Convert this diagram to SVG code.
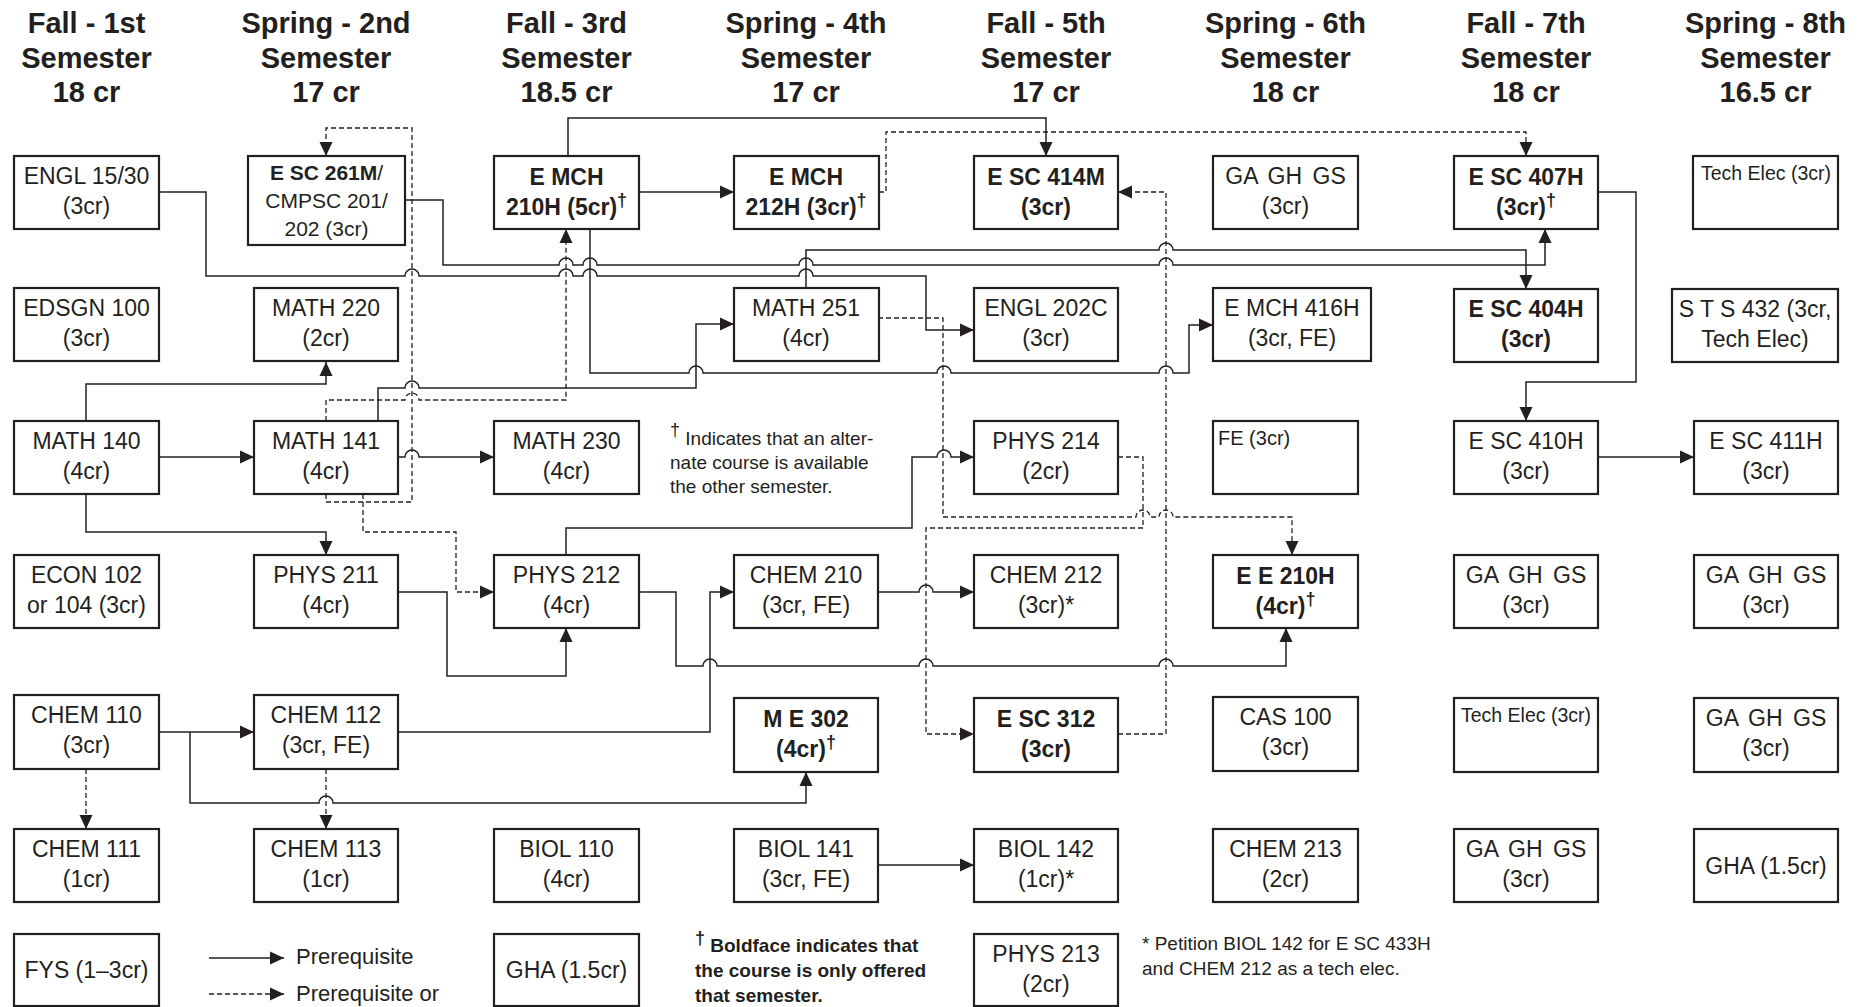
<svg xmlns="http://www.w3.org/2000/svg" width="1862" height="1007" viewBox="0 0 1862 1007">
<style>
.box{fill:#fff;stroke:#231f20;stroke-width:2.2}
text{font-family:"Liberation Sans",Arial,sans-serif;fill:#231f20}
.t{font-size:23px;text-anchor:middle}
.s{font-size:19.5px;text-anchor:middle}
.b{font-weight:bold}
.h{font-size:29px;font-weight:bold;text-anchor:middle}
.n{font-size:19px}
.dg{font-size:18px}
.c{fill:none;stroke:#231f20;stroke-width:1.5}
.d{stroke-dasharray:5 3;stroke-width:1.3}
.ga{word-spacing:4px}
</style>
<defs>
<marker id="ah" markerUnits="userSpaceOnUse" markerWidth="14" markerHeight="13" refX="14" refY="6.5" orient="auto" overflow="visible">
<path d="M0,0 L14,6.5 L0,13 z" fill="#231f20"/>
</marker>
</defs>
<rect width="1862" height="1007" fill="#fff"/>

<g id="headers">
<text class="h" x="86.5" y="33">Fall - 1st</text><text class="h" x="86.5" y="68">Semester</text><text class="h" x="86.5" y="102">18 cr</text>
<text class="h" x="326" y="33">Spring - 2nd</text><text class="h" x="326" y="68">Semester</text><text class="h" x="326" y="102">17 cr</text>
<text class="h" x="566.5" y="33">Fall - 3rd</text><text class="h" x="566.5" y="68">Semester</text><text class="h" x="566.5" y="102">18.5 cr</text>
<text class="h" x="806" y="33">Spring - 4th</text><text class="h" x="806" y="68">Semester</text><text class="h" x="806" y="102">17 cr</text>
<text class="h" x="1046" y="33">Fall - 5th</text><text class="h" x="1046" y="68">Semester</text><text class="h" x="1046" y="102">17 cr</text>
<text class="h" x="1285.5" y="33">Spring - 6th</text><text class="h" x="1285.5" y="68">Semester</text><text class="h" x="1285.5" y="102">18 cr</text>
<text class="h" x="1526" y="33">Fall - 7th</text><text class="h" x="1526" y="68">Semester</text><text class="h" x="1526" y="102">18 cr</text>
<text class="h" x="1765.5" y="33">Spring - 8th</text><text class="h" x="1765.5" y="68">Semester</text><text class="h" x="1765.5" y="102">16.5 cr</text>
</g>

<g id="connectors">
<path class="c" marker-end="url(#ah)" d="M159,192 H206 V276 H405 a7,7 0 0 1 14,0 H559 a7,7 0 0 1 14,0 H583 a7,7 0 0 1 14,0 H799 a7,7 0 0 1 14,0 H926 V330 H974"/>
<path class="c" marker-end="url(#ah)" d="M405,200 H443 V265 H559 a7,7 0 0 1 14,0 H583 a7,7 0 0 1 14,0 H799 a7,7 0 0 1 14,0 H1159 a7,7 0 0 1 14,0 H1545 V229"/>
<path class="c" marker-end="url(#ah)" d="M806,288 V250 H1159 a7,7 0 0 1 14,0 H1526 V289"/>
<path class="c" marker-end="url(#ah)" d="M568,156 V118 H1046 V156"/>
<path class="c" marker-end="url(#ah)" d="M639,192 H734"/>
<path class="c" marker-end="url(#ah)" d="M590,229 V373 H689 a7,7 0 0 1 14,0 H937 a7,7 0 0 1 14,0 H1159 a7,7 0 0 1 14,0 H1189 V325 H1213"/>
<path class="c" marker-end="url(#ah)" d="M159,457 H254"/>
<path class="c" marker-end="url(#ah)" d="M86,421 V384 H326 V362"/>
<path class="c" marker-end="url(#ah)" d="M86,494 V532 H326 V555"/>
<path class="c" marker-end="url(#ah)" d="M398,457 H405 a7,7 0 0 1 14,0 H494"/>
<path class="c" marker-end="url(#ah)" d="M378,421 V388 H405 a7,7 0 0 1 14,0 H696 V324 H734"/>
<path class="c" marker-end="url(#ah)" d="M398,592 H447 V676 H566 V628"/>
<path class="c" marker-end="url(#ah)" d="M566,555 V528 H912 V457 H937 a7,7 0 0 1 14,0 H974"/>
<path class="c" marker-end="url(#ah)" d="M639,592 H676 V666 H703 a7,7 0 0 1 14,0 H919 a7,7 0 0 1 14,0 H1159 a7,7 0 0 1 14,0 H1286 V628"/>
<path class="c" marker-end="url(#ah)" d="M398,732 H710 V592 H734"/>
<path class="c" marker-end="url(#ah)" d="M878,592 H919 a7,7 0 0 1 14,0 H974"/>
<path class="c" marker-end="url(#ah)" d="M159,732 H254"/>
<path class="c" marker-end="url(#ah)" d="M190,732 V803 H319 a7,7 0 0 1 14,0 H806 V772"/>
<path class="c" marker-end="url(#ah)" d="M878,865 H974"/>
<path class="c" marker-end="url(#ah)" d="M1598,192 H1636 V382 H1526 V421"/>
<path class="c" marker-end="url(#ah)" d="M1598,457 H1694"/>
<path class="c d" marker-end="url(#ah)" d="M879,192 H886 V132 H1526 V156"/>
<path class="c d" marker-end="url(#ah)" d="M326,494 V502 H412 V128 H326 V156"/>
<path class="c d" marker-end="url(#ah)" d="M326,421 V400 H405 a7,7 0 0 1 14,0 H566 V229"/>
<path class="c d" marker-end="url(#ah)" d="M363,494 V532 H456 V592 H494"/>
<path class="c d" marker-end="url(#ah)" d="M878,318 H943 V517 H1136 a7,7 0 0 1 14,0 H1159 a7,7 0 0 1 14,0 H1292 V555"/>
<path class="c d" marker-end="url(#ah)" d="M1118,457 H1143 V528 H926 V734 H974"/>
<path class="c d" marker-end="url(#ah)" d="M1118,734 H1166 V192 H1118"/>
<path class="c d" marker-end="url(#ah)" d="M86,769 V829"/>
<path class="c d" marker-end="url(#ah)" d="M326,769 V829"/>
</g>

<g id="engl15"><rect class="box" x="14" y="156" width="145" height="73"/><text class="t" x="86.5" y="184">ENGL 15/30</text><text class="t" x="86.5" y="214">(3cr)</text></g>
<g id="esc261m"><rect class="box" x="248" y="156" width="157" height="89"/><text class="t" style="font-size:21px" x="326.5" y="180"><tspan class="b">E SC 261M</tspan>/</text><text class="t" style="font-size:21px" x="326.5" y="208">CMPSC 201/</text><text class="t" style="font-size:21px" x="326.5" y="236">202 (3cr)</text></g>
<g id="emch210h"><rect class="box" x="494" y="156" width="145" height="73"/><text class="t b" x="566.5" y="185">E MCH</text><text class="t b" x="566.5" y="215">210H (5cr)<tspan class="dg" dy="-9">†</tspan></text></g>
<g id="emch212h"><rect class="box" x="734" y="156" width="145" height="73"/><text class="t b" x="806" y="185">E MCH</text><text class="t b" x="806" y="215">212H (3cr)<tspan class="dg" dy="-9">†</tspan></text></g>
<g id="esc414m"><rect class="box" x="974" y="156" width="144" height="73"/><text class="t b" x="1046" y="185">E SC 414M</text><text class="t b" x="1046" y="215">(3cr)</text></g>
<g id="ga6"><rect class="box" x="1213" y="156" width="145" height="73"/><text class="t ga" x="1285.5" y="184">GA GH GS</text><text class="t" x="1285.5" y="214">(3cr)</text></g>
<g id="esc407h"><rect class="box" x="1454" y="156" width="144" height="73"/><text class="t b" x="1526" y="185">E SC 407H</text><text class="t b" x="1526" y="215">(3cr)<tspan class="dg" dy="-9">†</tspan></text></g>
<g id="techelec8"><rect class="box" x="1693" y="156" width="145" height="73"/><text class="s" x="1766" y="180">Tech Elec (3cr)</text></g>

<g id="edsgn100"><rect class="box" x="14" y="288" width="145" height="73"/><text class="t" x="86.5" y="316">EDSGN 100</text><text class="t" x="86.5" y="346">(3cr)</text></g>
<g id="math220"><rect class="box" x="254" y="288" width="144" height="73"/><text class="t" x="326" y="316">MATH 220</text><text class="t" x="326" y="346">(2cr)</text></g>
<g id="math251"><rect class="box" x="734" y="288" width="145" height="73"/><text class="t" x="806" y="316">MATH 251</text><text class="t" x="806" y="346">(4cr)</text></g>
<g id="engl202c"><rect class="box" x="974" y="288" width="144" height="73"/><text class="t" x="1046" y="316">ENGL 202C</text><text class="t" x="1046" y="346">(3cr)</text></g>
<g id="emch416h"><rect class="box" x="1213" y="288" width="158" height="73"/><text class="t" x="1292" y="316">E MCH 416H</text><text class="t" x="1292" y="346">(3cr, FE)</text></g>
<g id="esc404h"><rect class="box" x="1454" y="289" width="144" height="73"/><text class="t b" x="1526" y="317">E SC 404H</text><text class="t b" x="1526" y="347">(3cr)</text></g>
<g id="sts432"><rect class="box" x="1672" y="289" width="166" height="73"/><text class="t" x="1755" y="317">S T S 432 (3cr,</text><text class="t" x="1755" y="347">Tech Elec)</text></g>

<g id="math140"><rect class="box" x="14" y="421" width="145" height="73"/><text class="t" x="86.5" y="449">MATH 140</text><text class="t" x="86.5" y="479">(4cr)</text></g>
<g id="math141"><rect class="box" x="254" y="421" width="144" height="73"/><text class="t" x="326" y="449">MATH 141</text><text class="t" x="326" y="479">(4cr)</text></g>
<g id="math230"><rect class="box" x="494" y="421" width="145" height="73"/><text class="t" x="566.5" y="449">MATH 230</text><text class="t" x="566.5" y="479">(4cr)</text></g>
<g id="phys214"><rect class="box" x="974" y="421" width="144" height="73"/><text class="t" x="1046" y="449">PHYS 214</text><text class="t" x="1046" y="479">(2cr)</text></g>
<g id="fe6"><rect class="box" x="1213" y="421" width="145" height="73"/><text class="n" style="font-size:20px" x="1218" y="445">FE (3cr)</text></g>
<g id="esc410h"><rect class="box" x="1454" y="421" width="144" height="73"/><text class="t" x="1526" y="449">E SC 410H</text><text class="t" x="1526" y="479">(3cr)</text></g>
<g id="esc411h"><rect class="box" x="1694" y="421" width="144" height="73"/><text class="t" x="1766" y="449">E SC 411H</text><text class="t" x="1766" y="479">(3cr)</text></g>

<g id="econ"><rect class="box" x="14" y="555" width="145" height="73"/><text class="t" x="86.5" y="583">ECON 102</text><text class="t" x="86.5" y="613">or 104 (3cr)</text></g>
<g id="phys211"><rect class="box" x="254" y="555" width="144" height="73"/><text class="t" x="326" y="583">PHYS 211</text><text class="t" x="326" y="613">(4cr)</text></g>
<g id="phys212"><rect class="box" x="494" y="555" width="145" height="73"/><text class="t" x="566.5" y="583">PHYS 212</text><text class="t" x="566.5" y="613">(4cr)</text></g>
<g id="chem210"><rect class="box" x="734" y="555" width="144" height="73"/><text class="t" x="806" y="583">CHEM 210</text><text class="t" x="806" y="613">(3cr, FE)</text></g>
<g id="chem212"><rect class="box" x="974" y="555" width="144" height="73"/><text class="t" x="1046" y="583">CHEM 212</text><text class="t" x="1046" y="613">(3cr)*</text></g>
<g id="ee210h"><rect class="box" x="1213" y="555" width="145" height="73"/><text class="t b" x="1285.5" y="584">E E 210H</text><text class="t b" x="1285.5" y="614">(4cr)<tspan class="dg" dy="-9">†</tspan></text></g>
<g id="ga7"><rect class="box" x="1454" y="555" width="144" height="73"/><text class="t ga" x="1526" y="583">GA GH GS</text><text class="t" x="1526" y="613">(3cr)</text></g>
<g id="ga8"><rect class="box" x="1694" y="555" width="144" height="73"/><text class="t ga" x="1766" y="583">GA GH GS</text><text class="t" x="1766" y="613">(3cr)</text></g>

<g id="chem110"><rect class="box" x="14" y="695" width="145" height="74"/><text class="t" x="86.5" y="723">CHEM 110</text><text class="t" x="86.5" y="753">(3cr)</text></g>
<g id="chem112"><rect class="box" x="254" y="695" width="144" height="74"/><text class="t" x="326" y="723">CHEM 112</text><text class="t" x="326" y="753">(3cr, FE)</text></g>
<g id="me302"><rect class="box" x="734" y="698" width="144" height="74"/><text class="t b" x="806" y="727">M E 302</text><text class="t b" x="806" y="757">(4cr)<tspan class="dg" dy="-9">†</tspan></text></g>
<g id="esc312"><rect class="box" x="974" y="698" width="144" height="74"/><text class="t b" x="1046" y="727">E SC 312</text><text class="t b" x="1046" y="757">(3cr)</text></g>
<g id="cas100"><rect class="box" x="1213" y="697" width="145" height="74"/><text class="t" x="1285.5" y="725">CAS 100</text><text class="t" x="1285.5" y="755">(3cr)</text></g>
<g id="techelec7"><rect class="box" x="1454" y="698" width="144" height="74"/><text class="s" x="1526" y="722">Tech Elec (3cr)</text></g>
<g id="ga8b"><rect class="box" x="1694" y="698" width="144" height="74"/><text class="t ga" x="1766" y="726">GA GH GS</text><text class="t" x="1766" y="756">(3cr)</text></g>

<g id="chem111"><rect class="box" x="14" y="829" width="145" height="73"/><text class="t" x="86.5" y="857">CHEM 111</text><text class="t" x="86.5" y="887">(1cr)</text></g>
<g id="chem113"><rect class="box" x="254" y="829" width="144" height="73"/><text class="t" x="326" y="857">CHEM 113</text><text class="t" x="326" y="887">(1cr)</text></g>
<g id="biol110"><rect class="box" x="494" y="829" width="145" height="73"/><text class="t" x="566.5" y="857">BIOL 110</text><text class="t" x="566.5" y="887">(4cr)</text></g>
<g id="biol141"><rect class="box" x="734" y="829" width="144" height="73"/><text class="t" x="806" y="857">BIOL 141</text><text class="t" x="806" y="887">(3cr, FE)</text></g>
<g id="biol142"><rect class="box" x="974" y="829" width="144" height="73"/><text class="t" x="1046" y="857">BIOL 142</text><text class="t" x="1046" y="887">(1cr)*</text></g>
<g id="chem213"><rect class="box" x="1213" y="829" width="145" height="73"/><text class="t" x="1285.5" y="857">CHEM 213</text><text class="t" x="1285.5" y="887">(2cr)</text></g>
<g id="ga7b"><rect class="box" x="1454" y="829" width="144" height="73"/><text class="t ga" x="1526" y="857">GA GH GS</text><text class="t" x="1526" y="887">(3cr)</text></g>
<g id="gha8"><rect class="box" x="1694" y="829" width="144" height="73"/><text class="t" x="1766" y="874">GHA (1.5cr)</text></g>

<g id="fys"><rect class="box" x="14" y="934" width="145" height="72"/><text class="t" x="86.5" y="978">FYS (1–3cr)</text></g>
<g id="gha3"><rect class="box" x="494" y="934" width="145" height="72"/><text class="t" x="566.5" y="978">GHA (1.5cr)</text></g>
<g id="phys213"><rect class="box" x="974" y="934" width="144" height="72"/><text class="t" x="1046" y="962">PHYS 213</text><text class="t" x="1046" y="992">(2cr)</text></g>

<g id="legend">
<path class="c" marker-end="url(#ah)" d="M209,958 H284"/>
<path class="c d" marker-end="url(#ah)" d="M209,994 H284"/>
<text style="font-size:22px" x="296" y="964">Prerequisite</text>
<text style="font-size:22px" x="296" y="1001">Prerequisite or</text>
</g>

<g id="notes">
<text class="n" x="670" y="445"><tspan class="dg" dy="-9">†</tspan><tspan dy="9"> Indicates that an alter-</tspan></text>
<text class="n" x="670" y="469">nate course is available</text>
<text class="n" x="670" y="493">the other semester.</text>
<text class="n b" x="695" y="952"><tspan class="dg" dy="-8">†</tspan><tspan dy="8"> Boldface indicates that</tspan></text>
<text class="n b" x="695" y="977">the course is only offered</text>
<text class="n b" x="695" y="1002">that semester.</text>
<text class="n" x="1142" y="950">* Petition BIOL 142 for E SC 433H</text>
<text class="n" x="1142" y="975">and CHEM 212 as a tech elec.</text>
</g>
</svg>
